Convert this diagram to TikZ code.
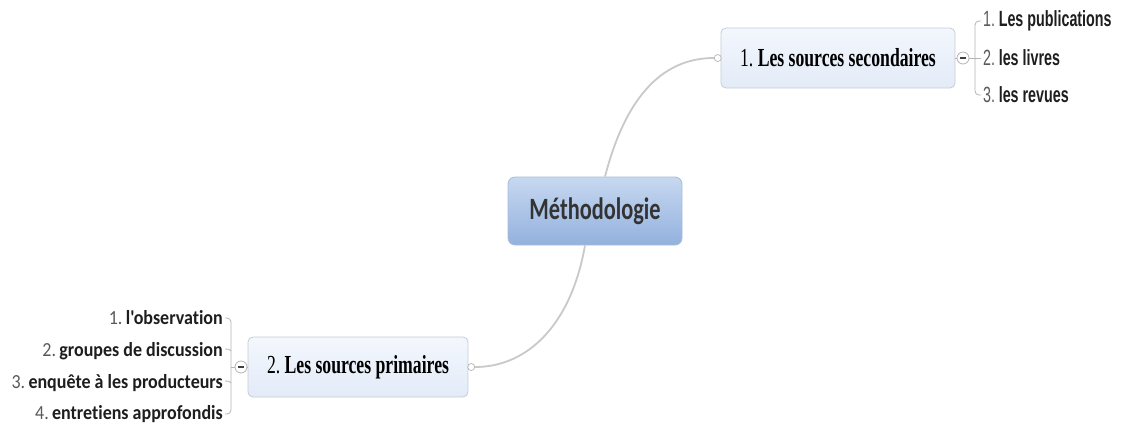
\documentclass[tikz,border=0pt]{standalone}
\usepackage{fontspec}
\newfontfamily\centralfont[FakeStretch=0.72]{Carlito}
\newfontfamily\topicfont[FakeStretch=0.68]{Liberation Serif}
\newfontfamily\rightfont[FakeStretch=0.65]{Liberation Sans}
\newfontfamily\leftfont[FakeStretch=0.90,Ligatures=NoCommon]{Carlito}
\definecolor{cTop}{HTML}{C7D8F0}
\definecolor{cBot}{HTML}{93B1DE}
\definecolor{cBorder}{HTML}{A9BDDA}
\definecolor{cText}{HTML}{333333}
\definecolor{tTop}{HTML}{F3F7FD}
\definecolor{tBot}{HTML}{E3EBF8}
\definecolor{tBorder}{HTML}{C6CCD6}
\definecolor{connGray}{HTML}{C9C9C9}
\definecolor{brkGray}{HTML}{B4B4B4}
\definecolor{numGray}{HTML}{5A5A5A}
\definecolor{itemText}{HTML}{1E1E1E}
\tikzset{
  central/.style={draw=cBorder, line width=0.8bp, rounded corners=7bp, top color=cTop, bottom color=cBot,
    minimum width=174bp, minimum height=68bp, text=cText, inner sep=0pt},
  topic/.style={draw=tBorder, line width=0.8bp, rounded corners=5bp, top color=tTop, bottom color=tBot,
    minimum height=60bp, text=black, inner sep=0pt},
  jcirc/.style={circle, draw=brkGray, fill=white, line width=0.7bp, minimum size=7bp, inner sep=0pt},
  coll/.style={circle, draw=brkGray, fill=white, line width=0.8bp, minimum size=12bp, inner sep=0pt},
  conn/.style={draw=connGray, line width=1.8bp},
  brk/.style={draw=brkGray, line width=0.8bp},
  ritem/.style={inner sep=1bp, text=itemText, font=\rightfont\bfseries\fontsize{22bp}{25bp}\selectfont},
  litem/.style={inner sep=1bp, text=itemText, font=\leftfont\bfseries\fontsize{20bp}{23bp}\selectfont},
}
\newcommand{\rnum}[1]{{\mdseries\color{numGray}#1}}
\begin{document}
\begin{tikzpicture}[x=1bp,y=-1bp]
\useasboundingbox[fill=white] (0,0) rectangle (1132,428);

% central
\node[central] (m) at (595,211) {\centralfont\bfseries\fontsize{31bp}{36bp}\selectfont Méthodologie};

% topic nodes
\node[topic, minimum width=234bp] (n1) at (838,58)
  {\topicfont\fontsize{26bp}{30bp}\selectfont 1.\,\textbf{Les sources secondaires}};
\node[topic, minimum width=220bp] (n2) at (358,367)
  {\topicfont\fontsize{26bp}{30bp}\selectfont 2.\,\textbf{Les sources primaires}};

% junction circles
\node[jcirc, anchor=east] (c1) at ([xshift=1bp]n1.west) {};
\node[jcirc, anchor=west] (c2) at ([xshift=-1bp]n2.east) {};

% connectors
\draw[conn] ([xshift=10bp]m.north) .. controls +(22,-85) and +(-48,0) .. (c1.west);
\draw[conn] ([xshift=-10bp]m.south) .. controls +(-14,80) and +(52,0) .. (c2.east);

% collapse circles
\node[coll] (k1) at (963,58) {};
\node[coll] (k2) at (241,367) {};
\draw[line width=1.3bp, black!75] ([xshift=-3bp]k1.center) -- ([xshift=3bp]k1.center);
\draw[line width=1.3bp, black!75] ([xshift=-3bp]k2.center) -- ([xshift=3bp]k2.center);
\draw[brk] (n1.east) -- (k1.west);
\draw[brk] (n2.west) -- (k2.east);

% right items
\node[ritem, anchor=west] (r1) at (982,21) {\rnum{1.}\,Les publications};
\node[ritem, anchor=west] (r2) at (982,58) {\rnum{2.}\,les livres};
\node[ritem, anchor=west] (r3) at (982,95) {\rnum{3.}\,les revues};
\coordinate (br) at (975,58);
\draw[brk, rounded corners=4bp] ([xshift=-1bp]r1.west) -| (br) |- ([xshift=-1bp]r3.west);
\draw[brk] (k1.east) -- ([xshift=-1bp]r2.west);

% left items
\node[litem, anchor=east] (l1) at (224,318) {\rnum{1.}\,l'observation};
\node[litem, anchor=east] (l2) at (224,351) {\rnum{2.}\,groupes de discussion};
\node[litem, anchor=east] (l3) at (224,383) {\rnum{3.}\,enquête à les producteurs};
\node[litem, anchor=east] (l4) at (224,414) {\rnum{4.}\,entretiens approfondis};
\coordinate (bl) at (231,367);
\draw[brk, rounded corners=4bp] ([xshift=1bp]l1.east) -| (bl) |- ([xshift=1bp]l4.east);
\draw[brk] (k2.west) -- (bl);
\draw[brk] (bl |- l2.east) .. controls +(0,-2) and +(3,0) .. ([xshift=1bp,yshift=2bp]l2.east);
\draw[brk] (bl |- l3.east) .. controls +(0,-2) and +(3,0) .. ([xshift=1bp,yshift=2bp]l3.east);
\end{tikzpicture}
\end{document}
